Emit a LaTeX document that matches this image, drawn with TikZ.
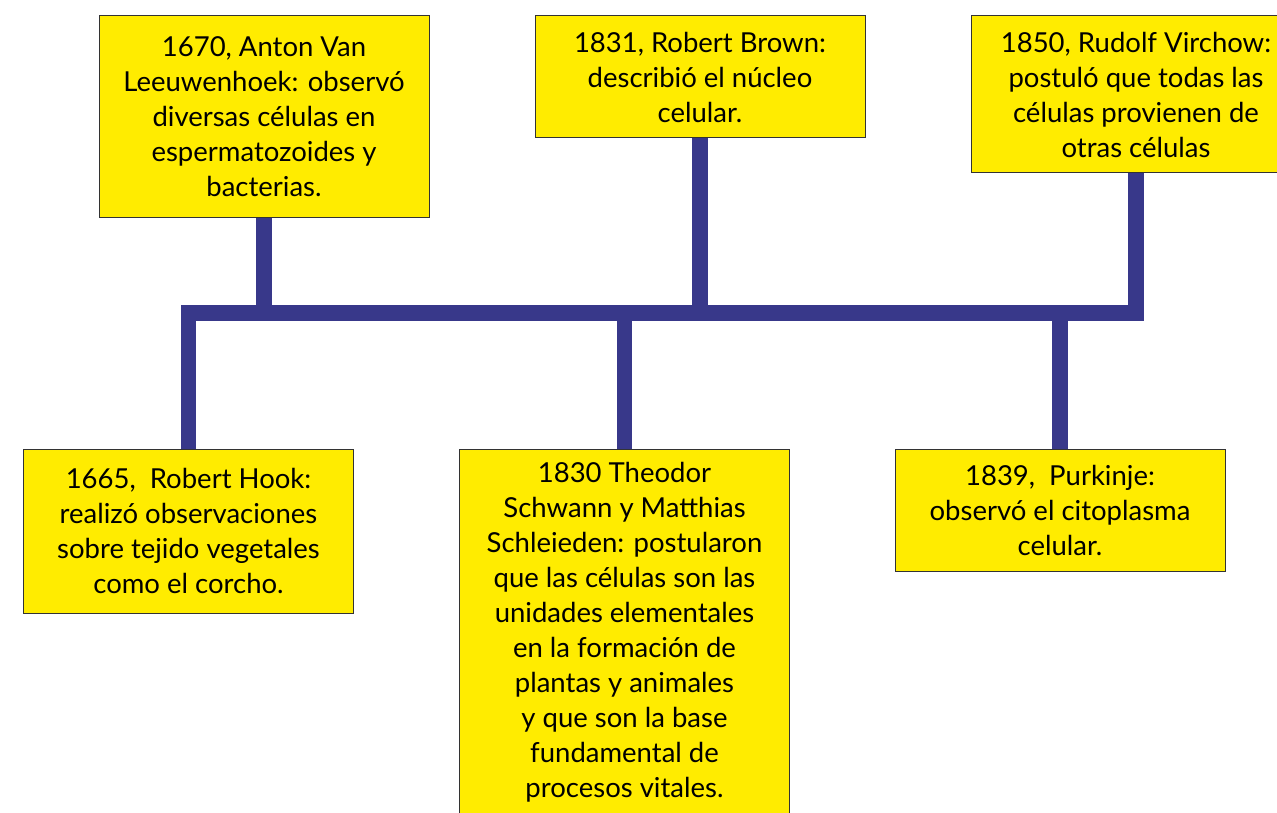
\documentclass[tikz,border=0pt]{standalone}
\usepackage{fontspec}
\setmainfont{Lato}
\definecolor{boxyellow}{RGB}{255,236,0}
\definecolor{barblue}{RGB}{56,56,138}
\tikzset{
  event/.style={draw=black!80, line width=1pt, fill=boxyellow, minimum width=330pt,
    inner sep=0pt, align=center, font=\fontsize{27.5}{35}\selectfont},
  bar/.style={draw=barblue, line width=15.6pt}
}
\begin{document}
\begin{tikzpicture}[x=1pt,y=-1pt]
  \useasboundingbox (0,0) rectangle (1277,813);
  \clip (0,0) rectangle (1277,813);
  % upper row
  \node[event, minimum height=202pt] (b1670) at (264,117)
    {1670, Anton Van\\Leeuwenhoek: observó\\diversas células en\\espermatozoides y\\bacterias.};
  \node[event, minimum height=122pt] (b1831) at (700,77)
    {1831, Robert Brown:\\describió el núcleo\\celular.};
  \node[event, minimum height=157pt] (b1850) at (1136,94.5)
    {1850, Rudolf Virchow:\\postuló que todas las\\células provienen de\\otras células};
  % lower row
  \node[event, minimum height=164pt] (b1665) at (188.5,531)
    {1665,\ \ Robert Hook:\\realizó observaciones\\sobre tejido vegetales\\como el corcho.};
  \node[event, minimum height=366pt] (b1830) at (624.5,632)
    {1830 Theodor\\Schwann y Matthias\\Schleieden: postularon\\que las células son las\\unidades elementales\\en la formación de\\plantas y animales\\y que son la base\\fundamental de\\procesos vitales.};
  \node[event, minimum height=122pt] (b1839) at (1060,510)
    {1839,\ \ Purkinje:\\observó el citoplasma\\celular.};
  % time line
  \coordinate (spine) at (0,313);
  \draw[bar] (b1665.north) -- (b1665.north |- spine) -- (b1850.south |- spine) -- (b1850.south);
  \draw[bar] (b1670.south) -- (b1670.south |- spine);
  \draw[bar] (b1831.south) -- (b1831.south |- spine);
  \draw[bar] (b1830.north) -- (b1830.north |- spine);
  \draw[bar] (b1839.north) -- (b1839.north |- spine);
\end{tikzpicture}
\end{document}
